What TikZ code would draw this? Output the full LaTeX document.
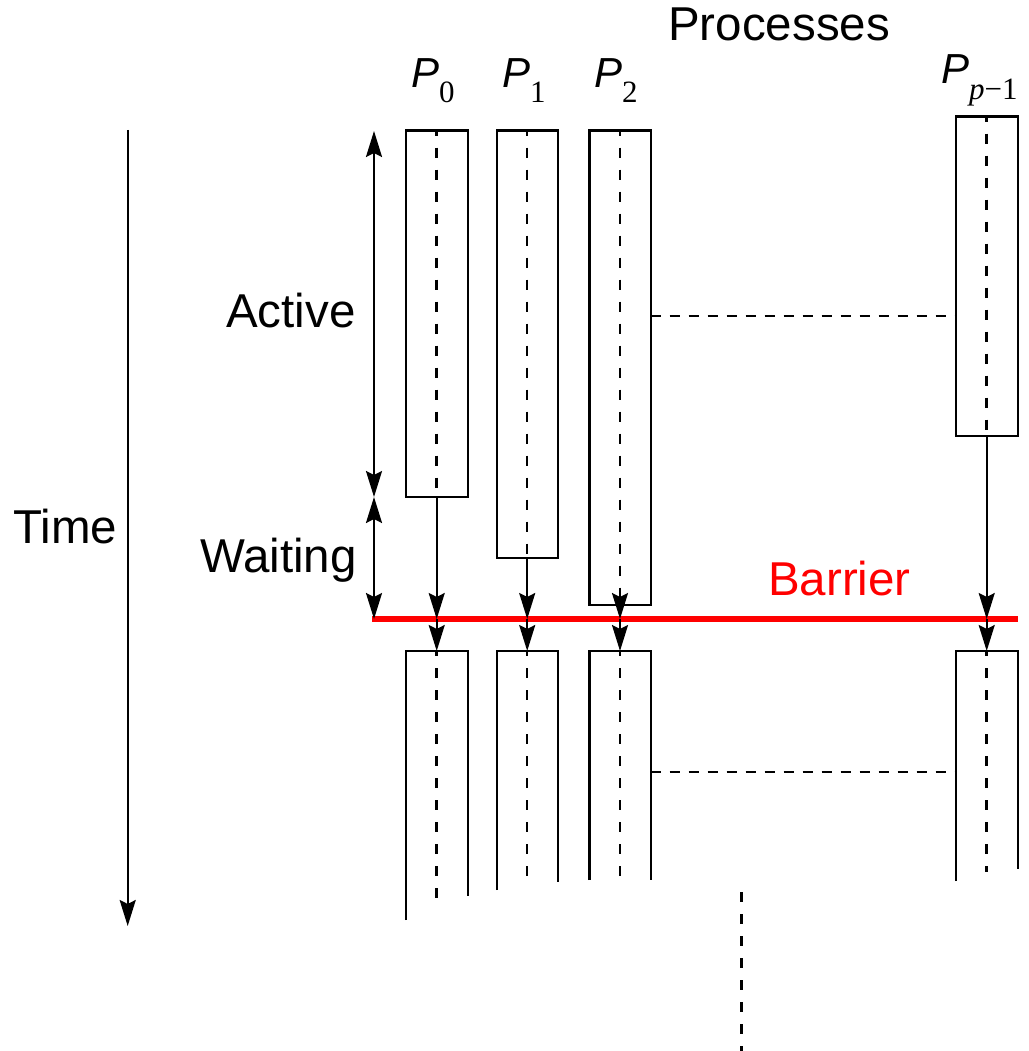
\documentclass[tikz,border=0pt]{standalone}
\usepackage{fontspec}
\setmainfont{Liberation Sans}
\newfontfamily\tms{Liberation Serif}
\usetikzlibrary{arrows.meta}
\tikzset{
  lbl/.style={inner sep=0pt, font=\fontsize{47.5}{50}\selectfont, anchor=base west},
  plbl/.style={inner sep=0pt, anchor=base west},
  procbox/.style={draw, line width=2.4pt, minimum width=62pt, inner sep=0pt, outer sep=0pt, anchor=north west},
  openbox/.style={line width=2.4pt},
  cline/.style={line width=2.5pt, dash pattern=on 10pt off 12pt, dash phase=5pt},
  hline/.style={line width=2.5pt, dash pattern=on 10pt off 9pt},
  arr/.style={line width=2.3pt, -{Stealth[length=26pt,width=16pt,inset=4pt]}},
  darr/.style={line width=2.3pt, {Stealth[length=26pt,width=16pt,inset=4pt]}-{Stealth[length=26pt,width=16pt,inset=4pt]}},
  barrier/.style={red, line width=5.5pt}
}
\newcommand{\Plab}[1]{{\fontsize{42}{44}\selectfont\itshape P}\raisebox{-15.4pt}{\tms\fontsize{31}{33}\selectfont #1}}
\begin{document}
\begin{tikzpicture}[x=1pt,y=-1pt]
\useasboundingbox (0,0) rectangle (1028,1051);
% labels
\node[lbl] (proc) at (668,41) {Processes};
\node[plbl] (p0) at (411,87.3) {\Plab{0}};
\node[plbl] (p1) at (502,87.3) {\Plab{1}};
\node[plbl] (p2) at (594,87.3) {\Plab{2}};
\node[plbl] (pp) at (941,84) {\Plab{{\itshape p}\char"2212 1}};
\node[lbl] (time) at (13,543.3) {Time};
\node[lbl] (active) at (226,327.7) {Active};
\node[lbl] (waiting) at (200,572.3) {Waiting};
\node[lbl, text=red] (barlab) at (768,595) {Barrier};
% upper boxes
\node[procbox, minimum height=366.3pt] (b0) at (405.7,130.7) {};
\node[procbox, minimum height=427.3pt, minimum width=61pt] (b1) at (496.7,130.7) {};
\node[procbox, minimum height=474.3pt, minimum width=61.4pt] (b2) at (589.3,130.7) {};
\node[procbox, minimum height=319.3pt] (bp) at (955.7,116.7) {};
% center dashed lines in upper boxes
\draw[cline] (b0.north) -- (b0.south);
\draw[cline] (b1.north) -- (b1.south);
\draw[cline] (b2.north) -- (b2.south);
\draw[cline] (bp.north) -- (bp.south);
% barrier coordinates
\coordinate (barL) at (372,619);
\coordinate (barR) at (1018,619);
\coordinate (k0) at (436.7,619);
\coordinate (k1) at (527.2,619);
\coordinate (k2) at (620,619);
\coordinate (kp) at (986.7,619);
% lower box tops
\coordinate (t0) at (436.7,651);
\coordinate (t1) at (527.2,651);
\coordinate (t2) at (620,651);
\coordinate (tp) at (986.7,651);
\draw[barrier] (barL) -- (barR);
% arrows to barrier and to lower boxes
\draw[arr] (b0.south) -- (k0);
\draw[arr] (b1.south) -- (k1);
\draw[arr] (b2.south) -- (k2);
\draw[arr] (bp.south) -- (kp);
\draw[arr] (k0) -- (t0);
\draw[arr] (k1) -- (t1);
\draw[arr] (k2) -- (t2);
\draw[arr] (kp) -- (tp);
% lower open boxes
\draw[openbox] (405.7,920) |- (467.7,651) -- (467.7,895.7);
\draw[openbox] (496.7,890) |- (557.7,651) -- (557.7,881.7);
\draw[openbox] (589.3,880) |- (650.7,651) -- (650.7,880);
\draw[openbox] (955.7,881) |- (1017.7,651) -- (1017.7,869);
% center dashed lines in lower boxes
\coordinate (e0) at (436.7,906);
\coordinate (e1) at (527.2,884);
\coordinate (e2) at (620,879);
\coordinate (ep) at (986.7,872);
\draw[cline] (t0) -- (e0);
\draw[cline] (t1) -- (e1);
\draw[cline] (t2) -- (e2);
\draw[cline] (tp) -- (ep);
% horizontal dashed connectors
\draw[hline] (b2.east |- 0,316) -- (bp.west |- 0,316);
\coordinate (l1) at (650.7,772);
\coordinate (l2) at (955.7,772);
\draw[hline] (l1) -- (l2);
% extra dashed line at bottom
\coordinate (x1) at (741.3,892);
\coordinate (x2) at (741.3,1051);
\draw[cline, dash phase=0pt] (x1) -- (x2);
% time axis
\coordinate (tt) at (127.7,130);
\coordinate (tb) at (127.7,926);
\draw[arr] (tt) -- (tb);
% active / waiting double arrows
\coordinate (a1) at (374,131);
\coordinate (a2) at (374,497);
\coordinate (a3) at (374,619);
\draw[darr] (a1) -- (a2);
\draw[darr] (a2) -- (a3);
\end{tikzpicture}
\end{document}
